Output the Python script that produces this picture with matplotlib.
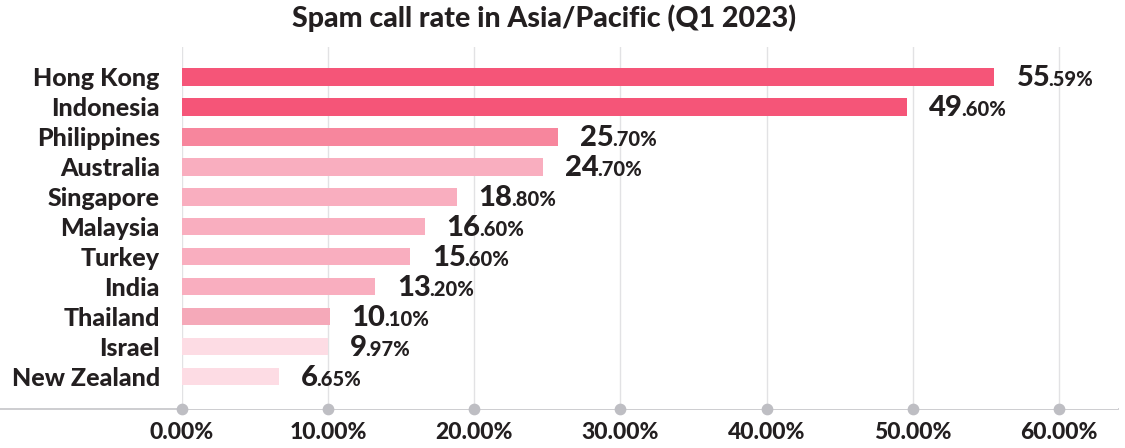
import numpy as np
import matplotlib
matplotlib.use("Agg")
import matplotlib.pyplot as plt
from matplotlib.lines import Line2D

plt.rcParams['font.family'] = ['Lato', 'DejaVu Sans']

countries = ["Hong Kong", "Indonesia", "Philippines", "Australia", "Singapore",
             "Malaysia", "Turkey", "India", "Thailand", "Israel", "New Zealand"]
rates = [55.59, 49.60, 25.70, 24.70, 18.80, 16.60, 15.60, 13.20, 10.10, 9.97, 6.65]
bar_colors = ["#F55578", "#F55578", "#F7869D", "#F9AEBF", "#F9AEBF", "#F9AEBF",
              "#F9AEBF", "#F9AEBF", "#F5A9B9", "#FDDCE4", "#FDDCE4"]
ticks = [0, 10, 20, 30, 40, 50, 60]
tick_labels = ["0.00%", "10.00%", "20.00%", "30.00%", "40.00%", "50.00%", "60.00%"]

txt = "#231F20"
wt = 900
W, H = 1125, 448
fig = plt.figure(figsize=(W / 100, H / 100), dpi=100)
ax = fig.add_axes([182 / W, 1 - 409 / H, (1118 - 182) / W, (409 - 47) / H])

y = np.arange(len(countries))
ax.barh(y, rates, height=0.57, color=bar_colors, zorder=3)
ax.set_xlim(0, 64.04)
ax.set_ylim(len(countries) + 0.07, -1.0)

# vertical grid
for t in ticks:
    ax.axvline(t, color="#E2E2E4", lw=1, zorder=1)

for s in ax.spines.values():
    s.set_visible(False)

ax.set_yticks(y)
ax.set_yticklabels(countries, fontsize=18, fontweight=wt, color=txt)
ax.tick_params(axis="y", length=0, pad=16)
ax.set_xticks(ticks)
ax.set_xticklabels(tick_labels, fontsize=16.5, fontweight=wt, color=txt)
ax.tick_params(axis="x", length=0, pad=9)

# bottom axis line reaching to the left edge + dots
fig.add_artist(Line2D([0, 1118 / W], [1 - 409 / H] * 2, color="#C9C9CD", lw=1.3,
                      transform=fig.transFigure, zorder=0))
ax.scatter(ticks, [0] * len(ticks), s=55, color="#BEBEC3", transform=ax.get_xaxis_transform(),
           clip_on=False, zorder=4)

# value labels: large integer part, small decimals
fig.canvas.draw()
rend = fig.canvas.get_renderer()
inv = ax.transData.inverted()
for i, v in enumerate(rates):
    whole, dec = f"{v:.2f}".split(".")
    t1 = ax.text(v + 1.5, i + 0.3, whole, fontsize=21, fontweight=wt, color=txt,
                 va="baseline", ha="left")
    bb = t1.get_window_extent(renderer=rend)
    x2 = inv.transform((bb.x1, bb.y0))[0]
    ax.text(x2 - 0.1, i + 0.3, "." + dec + "%", fontsize=14.5, fontweight=wt, color=txt,
            va="baseline", ha="left")

fig.text(544 / W, 1 - 18 / H, "Spam call rate in Asia/Pacific (Q1 2023)", fontsize=20.5,
         fontweight=wt, color=txt, ha="center", va="center")

fig.savefig("out.png", dpi=100, facecolor="white")
